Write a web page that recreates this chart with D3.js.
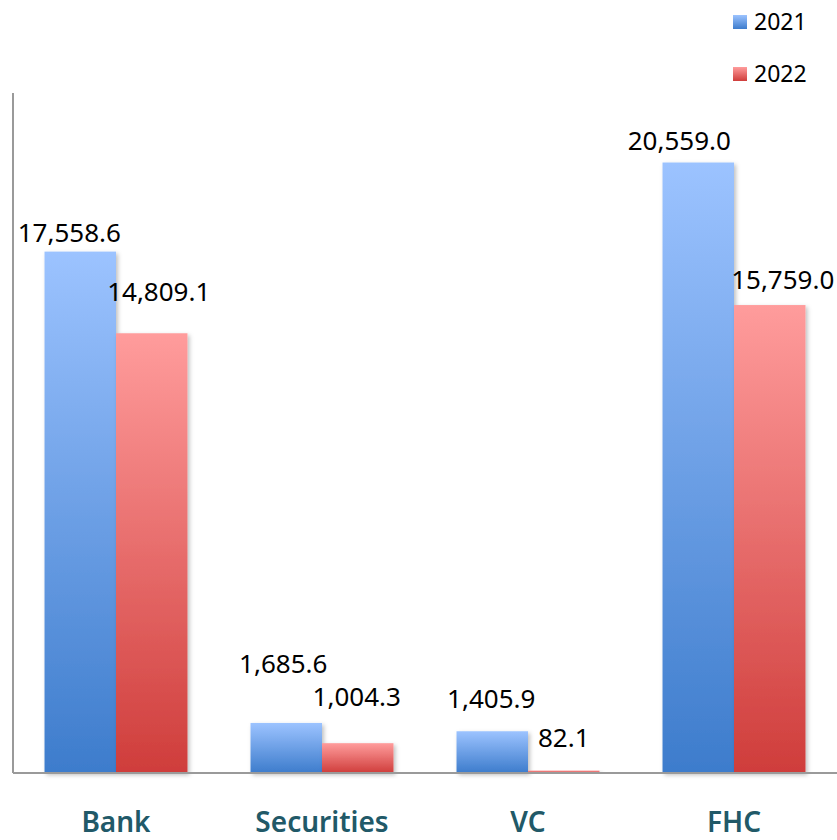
<!DOCTYPE html>
<html>
<head>
<meta charset="utf-8">
<script src="https://cdn.jsdelivr.net/npm/d3@7"></script>
<style>
  html, body { margin: 0; padding: 0; background: #fff; }
  svg { display: block; }
</style>
</head>
<body>
<svg id="chart" width="837" height="840"></svg>
<script>
// Categories and yearly values
const categories = ["Bank", "Securities", "VC", "FHC"];
const seriesNames = ["2021", "2022"];
const values2021 = [17558.6, 1685.6, 1405.9, 20559.0];
const values2022 = [14809.1, 1004.3, 82.1, 15759.0];

// Hand-placed data label nudges (px) per series, per category
const labelDx2021 = [-11, -3, -1, -19];
const labelDx2022 = [7, -1, 0, 13];
const labelLift2021 = [10, 50, 23, 13];
const labelLift2022 = [32, 37, 24, 16];

const series = [
  { name: seriesNames[0], values: values2021, dx: labelDx2021, lift: labelLift2021, grad: "g2021" },
  { name: seriesNames[1], values: values2022, dx: labelDx2022, lift: labelLift2022, grad: "g2022" }
];

const svg = d3.select("#chart");
const plot = { left: 13, right: 837, top: 93, bottom: 773 };

const x0 = d3.scaleBand()
  .domain(categories)
  .range([plot.left, plot.right])
  .paddingInner(0.306)
  .paddingOuter(0.153);

const x1 = d3.scaleBand()
  .domain(seriesNames)
  .range([0, x0.bandwidth()])
  .padding(0);

const y = d3.scaleLinear()
  .domain([0, 22900])
  .range([plot.bottom, plot.top]);

const defs = svg.append("defs");
const gradStops = {
  g2021: ["#9cc3ff", "#3d7ccc"],
  g2022: ["#ff9c9c", "#cf3d3b"]
};
Object.entries(gradStops).forEach(([id, [top, bottom]]) => {
  const g = defs.append("linearGradient")
    .attr("id", id).attr("x1", 0).attr("y1", 0).attr("x2", 0).attr("y2", 1);
  g.append("stop").attr("offset", "0%").attr("stop-color", top);
  g.append("stop").attr("offset", "100%").attr("stop-color", bottom);
});
const shadow = defs.append("filter").attr("id", "shadow")
  .attr("x", "-10%").attr("y", "-10%").attr("width", "130%").attr("height", "130%");
shadow.append("feDropShadow")
  .attr("dx", 2).attr("dy", 2).attr("stdDeviation", 2)
  .attr("flood-color", "#000").attr("flood-opacity", 0.25);

// Bars
const groups = svg.append("g").selectAll("g")
  .data(series)
  .join("g");

groups.selectAll("rect")
  .data(s => s.values.map((v, i) => ({ v, cat: categories[i], s })))
  .join("rect")
  .attr("x", d => x0(d.cat) + x1(d.s.name))
  .attr("y", d => y(d.v))
  .attr("width", x1.bandwidth())
  .attr("height", d => y(0) - y(d.v))
  .attr("fill", d => `url(#${d.s.grad})`)
  .attr("filter", "url(#shadow)");

// Axis lines
svg.append("line")
  .attr("x1", plot.left).attr("x2", plot.left)
  .attr("y1", plot.top).attr("y2", plot.bottom)
  .attr("stroke", "#9a9a9a").attr("stroke-width", 2);
svg.append("line")
  .attr("x1", plot.left).attr("x2", plot.right)
  .attr("y1", plot.bottom).attr("y2", plot.bottom)
  .attr("stroke", "#9a9a9a").attr("stroke-width", 2);

// Value labels
const fmt = d3.format(",.1f");
groups.selectAll("text.val")
  .data(s => s.values.map((v, i) => ({ v, i, cat: categories[i], s })))
  .join("text")
  .attr("class", "val")
  .attr("x", d => x0(d.cat) + x1(d.s.name) + x1.bandwidth() / 2 + d.s.dx[d.i])
  .attr("y", d => y(d.v) - d.s.lift[d.i])
  .attr("text-anchor", "middle")
  .attr("font-family", "'Noto Sans', sans-serif")
  .attr("font-size", 26)
  .attr("fill", "#000")
  .text(d => fmt(d.v));

// Category labels
svg.append("g").selectAll("text")
  .data(categories)
  .join("text")
  .attr("x", d => x0(d) + x0.bandwidth() / 2)
  .attr("y", 832)
  .attr("text-anchor", "middle")
  .attr("font-family", "'Noto Sans', sans-serif")
  .attr("font-weight", 600)
  .attr("font-size", 28)
  .attr("fill", "#215968")
  .text(d => d);

// Legend
const legend = svg.append("g").selectAll("g")
  .data(series)
  .join("g")
  .attr("transform", (d, i) => `translate(733, ${15 + i * 52})`);
legend.append("rect")
  .attr("width", 14).attr("height", 14)
  .attr("fill", d => `url(#${d.grad})`);
legend.append("text")
  .attr("x", 21).attr("y", 15)
  .attr("font-family", "'Noto Sans', sans-serif")
  .attr("font-size", 23)
  .attr("fill", "#000")
  .text(d => d.name);
</script>
</body>
</html>
